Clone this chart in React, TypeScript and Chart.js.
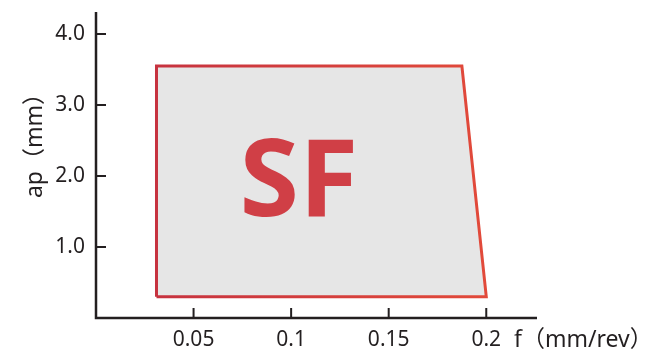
import React, { useEffect, useRef } from "react";
import { Chart, registerables } from "chart.js";

Chart.register(...registerables);

// Region polygon (feed f in mm/rev, depth of cut ap in mm)
const fValues = [0.031, 0.031, 0.1875, 0.2, 0.031];
const apValues = [0.3, 3.55, 3.55, 0.3, 0.3];

const xTickValues = [0.05, 0.1, 0.15, 0.2];
const xTickLabels = ["0.05", "0.1", "0.15", "0.2"];
const yTickValues = [1, 2, 3, 4];
const yTickLabels = ["1.0", "2.0", "3.0", "4.0"];

const regionLabel = "SF";
const xTitle = "f（mm/rev）";
const yTitle = "ap（mm）";

const FONT = "'Noto Sans', 'Noto Sans CJK SC', sans-serif";
const INK = "#231f20";

const decorPlugin = {
  id: "decor",
  afterDatasetsDraw(chart: any) {
    const { ctx, chartArea, scales } = chart;
    const xs = scales.x;
    const ys = scales.y;
    ctx.save();
    // region label
    ctx.fillStyle = "#d03f46";
    ctx.font = `bold 108px ${FONT}`;
    ctx.textAlign = "center";
    ctx.textBaseline = "alphabetic";
    ctx.fillText(regionLabel, 299, 216);

    // axes
    ctx.strokeStyle = INK;
    ctx.lineWidth = 2.5;
    ctx.lineCap = "butt";
    ctx.beginPath();
    ctx.moveTo(chartArea.left, chartArea.top);
    ctx.lineTo(chartArea.left, chartArea.bottom + 1.25);
    ctx.moveTo(chartArea.left - 1.25, chartArea.bottom);
    ctx.lineTo(chartArea.right, chartArea.bottom);
    ctx.stroke();

    // inward ticks
    ctx.lineWidth = 2;
    ctx.beginPath();
    yTickValues.forEach((v) => {
      const y = ys.getPixelForValue(v);
      ctx.moveTo(chartArea.left, y);
      ctx.lineTo(chartArea.left + 10, y);
    });
    xTickValues.forEach((v) => {
      const x = xs.getPixelForValue(v);
      ctx.moveTo(x, chartArea.bottom);
      ctx.lineTo(x, chartArea.bottom - 10);
    });
    ctx.stroke();

    // axis titles
    ctx.fillStyle = INK;
    ctx.font = `23px ${FONT}`;
    ctx.textAlign = "left";
    ctx.textBaseline = "middle";
    ctx.fillText(xTitle, 514, 340);

    ctx.save();
    ctx.translate(35, 140);
    ctx.rotate(-Math.PI / 2);
    ctx.textAlign = "center";
    ctx.textBaseline = "middle";
    ctx.font = `23px ${FONT}`;
    ctx.fillText(yTitle, 0, 0);
    ctx.restore();

    ctx.restore();
  },
};

export default function App() {
  const canvasRef = useRef<HTMLCanvasElement | null>(null);

  useEffect(() => {
    const canvas = canvasRef.current;
    if (!canvas) return;
    const points = fValues.map((f, i) => ({ x: f, y: apValues[i] }));

    const chart = new Chart(canvas, {
      type: "scatter",
      data: {
        datasets: [
          {
            data: points,
            showLine: true,
            fill: "shape",
            backgroundColor: "#e6e6e6",
            borderColor: (context: any) => {
              const c = context.chart;
              const area = c.chartArea;
              if (!area) return "#d9443f";
              const g = c.ctx.createLinearGradient(150, 0, 490, 0);
              g.addColorStop(0, "#c6323f");
              g.addColorStop(1, "#e24a3a");
              return g;
            },
            borderWidth: 3,
            borderJoinStyle: "miter",
            pointRadius: 0,
            pointHoverRadius: 0,
            tension: 0,
          } as any,
        ],
      },
      options: {
        animation: false,
        responsive: false,
        devicePixelRatio: 1,
        events: [],
        layout: { padding: { top: 12, right: 108, left: 0, bottom: 0 } },
        plugins: {
          legend: { display: false },
          tooltip: { enabled: false },
          title: { display: false },
        },
        scales: {
          x: {
            type: "linear",
            min: 0,
            max: 0.226,
            grid: { display: false, drawTicks: false },
            border: { display: false },
            afterFit: (s: any) => {
              s.height = 42;
              s.paddingLeft = 0;
              s.paddingRight = 0;
            },
            afterBuildTicks: (s: any) => {
              s.ticks = xTickValues.map((v) => ({ value: v }));
            },
            ticks: {
              autoSkip: false,
              maxRotation: 0,
              padding: 9,
              color: INK,
              font: { family: FONT, size: 21 },
              callback: (v: any) => {
                const i = xTickValues.indexOf(Number(v));
                return i >= 0 ? xTickLabels[i] : "";
              },
            },
          },
          y: {
            type: "linear",
            min: 0,
            max: 4.31,
            grid: { display: false, drawTicks: false },
            border: { display: false },
            afterFit: (s: any) => {
              s.width = 96;
              s.paddingTop = 0;
              s.paddingBottom = 0;
            },
            afterBuildTicks: (s: any) => {
              s.ticks = yTickValues.map((v) => ({ value: v }));
            },
            ticks: {
              autoSkip: false,
              padding: 11,
              color: INK,
              font: { family: FONT, size: 21 },
              callback: (v: any) => {
                const i = yTickValues.indexOf(Number(v));
                return i >= 0 ? yTickLabels[i] : "";
              },
            },
          },
        },
      },
      plugins: [decorPlugin],
    });

    return () => chart.destroy();
  }, []);

  return (
    <div style={{ position: "absolute", left: 0, top: 0, width: 645, height: 360, background: "#ffffff" }}>
      <canvas ref={canvasRef} width={645} height={360} style={{ display: "block" }} />
    </div>
  );
}
